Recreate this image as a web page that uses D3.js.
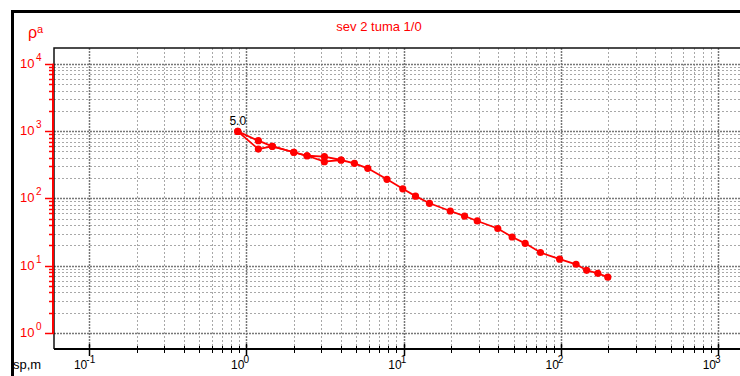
<!DOCTYPE html>
<html>
<head>
<meta charset="utf-8">
<script src="https://cdn.jsdelivr.net/npm/d3@7"></script>
<style>
  body { margin: 0; background: #fff; }
  svg { display: block; font-family: "Liberation Sans", Arial, sans-serif; }
</style>
</head>
<body>
<svg id="canvas" width="740" height="376"></svg>
<script>
// AB/2 spacing (m) and apparent resistivity, main curve
const spacing = [0.88, 1.19, 1.46, 2.0, 2.43, 3.13, 4.0, 4.86, 5.91, 7.83, 9.87, 11.9, 14.6,
    19.8, 24.4, 29.4, 39.7, 49, 59.3, 74.2, 98.3, 125, 146, 172, 199];
const rho = [990, 540, 595, 485, 430, 351, 372, 332, 280, 192, 139, 108, 84.6,
    65, 54.7, 46.2, 35.7, 26.7, 21.5, 15.7, 12.5, 10.5, 8.55, 7.71, 6.75];

// overlapping segment (second MN)
const spacing2 = [0.88, 1.19, 1.46, 2.0, 2.43, 3.13, 4.0];
const rho2 = [990, 720, 595, 485, 430, 417, 372];

const xDecades = [-1, 0, 1, 2, 3];
const yDecades = [0, 1, 2, 3, 4];
const title = "sev 2 tuma 1/0";
const firstLabel = "5.0";

const svg = d3.select("#canvas");
const pLeft = 54, pTop = 48, pRight = 740, pBottom = 349;

let x = d3.scaleLog().domain([0.1, 1000]).range([89.3, 718]);
let y = d3.scaleLog().domain([1, 10000]).range([333, 63.8]);

// outer frame
svg.append("path")
    .attr("d", "M12.5,380 V11.5 H745")
    .attr("fill", "none")
    .attr("stroke", "#000")
    .attr("stroke-width", 3);

svg.append("text")
    .attr("x", 379)
    .attr("y", 31)
    .attr("text-anchor", "middle")
    .attr("fill", "#ff0000")
    .attr("font-size", 13)
    .text(title);

// grid
var xMinor = [], xMajor = [];
xDecades.forEach(d => {
    for (let k = 1; k <= 9; k++) {
        let v = k * Math.pow(10, d);
        if (x(v) > pRight) continue;
        if (k == 1) xMajor.push(v); else if (d < 3) xMinor.push(v);
    }
});
var yMinor = [], yMajor = [];
yDecades.forEach(d => {
    for (let k = 1; k <= 9; k++) {
        let v = k * Math.pow(10, d);
        if (k == 1) yMajor.push(v); else if (d < 4) yMinor.push(v);
    }
});

var grid = svg.append("g").attr("class", "grid");
grid.selectAll(".vminor").data(xMinor).join("line")
    .attr("x1", d => Math.round(x(d)) + 0.5).attr("x2", d => Math.round(x(d)) + 0.5)
    .attr("y1", pTop).attr("y2", pBottom)
    .attr("stroke", "#a8a8a8").attr("stroke-dasharray", "2,2");
grid.selectAll(".hminor").data(yMinor).join("line")
    .attr("y1", d => Math.round(y(d)) + 0.5).attr("y2", d => Math.round(y(d)) + 0.5)
    .attr("x1", pLeft).attr("x2", pRight)
    .attr("stroke", "#a8a8a8").attr("stroke-dasharray", "2,2");
grid.selectAll(".vmajor").data(xMajor).join("line")
    .attr("x1", d => Math.round(x(d)) + 0.5).attr("x2", d => Math.round(x(d)) + 0.5)
    .attr("y1", pTop).attr("y2", pBottom)
    .attr("stroke", "#777").attr("stroke-width", 1.5).attr("stroke-dasharray", "2,1");
grid.selectAll(".hmajor").data(yMajor).join("line")
    .attr("y1", d => Math.round(y(d)) + 0.5).attr("y2", d => Math.round(y(d)) + 0.5)
    .attr("x1", pLeft).attr("x2", pRight)
    .attr("stroke", "#777").attr("stroke-width", 1.5).attr("stroke-dasharray", "2,1");

// plot frame
svg.append("path")
    .attr("d", "M" + pRight + "," + pTop + " H" + pLeft + " V" + pBottom)
    .attr("fill", "none").attr("stroke", "#111").attr("stroke-width", 1.5);

// x axis
svg.append("line")
    .attr("x1", pLeft).attr("x2", pRight).attr("y1", pBottom).attr("y2", pBottom)
    .attr("stroke", "#000").attr("stroke-width", 2);
svg.selectAll(".xminortick").data(xMinor).join("line")
    .attr("x1", d => Math.round(x(d)) + 0.5).attr("x2", d => Math.round(x(d)) + 0.5)
    .attr("y1", pBottom - 3).attr("y2", pBottom + 4)
    .attr("stroke", "#000");
svg.selectAll(".xmajortick").data(xMajor).join("line")
    .attr("x1", d => Math.round(x(d)) + 0.5).attr("x2", d => Math.round(x(d)) + 0.5)
    .attr("y1", pBottom - 5).attr("y2", pBottom + 7)
    .attr("stroke", "#000").attr("stroke-width", 1.5);

var xlab = svg.selectAll(".xlab").data(xDecades).join("g").attr("class", "xlab");
xlab.append("text")
    .attr("x", d => x(Math.pow(10, d)) - 2)
    .attr("y", 369)
    .attr("text-anchor", "end")
    .attr("font-size", 12)
    .text("10");
xlab.append("text")
    .attr("x", d => x(Math.pow(10, d)) - 3)
    .attr("y", 363)
    .attr("font-size", 10)
    .text(d => d);

svg.append("text")
    .attr("x", 13).attr("y", 369)
    .attr("font-size", 13)
    .text("sp,m");

// y axis (red)
svg.append("line")
    .attr("x1", 53).attr("x2", 53).attr("y1", y(10000)).attr("y2", y(1))
    .attr("stroke", "#ff0000").attr("stroke-width", 2);
svg.selectAll(".yminortick").data(yMinor).join("line")
    .attr("y1", d => Math.round(y(d)) + 0.5).attr("y2", d => Math.round(y(d)) + 0.5)
    .attr("x1", 49).attr("x2", 54)
    .attr("stroke", "#ff0000").attr("stroke-width", 1.5);
svg.selectAll(".ymajortick").data(yMajor).join("line")
    .attr("y1", d => Math.round(y(d)) + 0.5).attr("y2", d => Math.round(y(d)) + 0.5)
    .attr("x1", 45).attr("x2", 54)
    .attr("stroke", "#ff0000").attr("stroke-width", 1.5);

var ylab = svg.selectAll(".ylab").data(yDecades).join("g").attr("class", "ylab");
ylab.append("text")
    .attr("x", 20)
    .attr("y", d => y(Math.pow(10, d)) + 4)
    .attr("fill", "#ff0000")
    .attr("font-size", 13)
    .text("10");
ylab.append("text")
    .attr("x", 36)
    .attr("y", d => y(Math.pow(10, d)) - 3)
    .attr("fill", "#ff0000")
    .attr("font-size", 10)
    .text(d => d);

var rlab = svg.append("text")
    .attr("x", 28).attr("y", 38)
    .attr("fill", "#ff0000")
    .attr("font-size", 16)
    .text("ρ");
rlab.append("tspan")
    .attr("dy", -5)
    .attr("font-size", 11)
    .text("a");

// curves
var line = d3.line().x(d => x(d[0])).y(d => y(d[1]));
var pts = spacing.map((s, i) => [s, rho[i]]);
var pts2 = spacing2.map((s, i) => [s, rho2[i]]);

var curves = svg.append("g").attr("class", "curves");
[pts2, pts].forEach(p => {
    curves.append("path")
        .attr("d", line(p))
        .attr("fill", "none")
        .attr("stroke", "#ff0000")
        .attr("stroke-width", 1.8);
    curves.selectAll(null).data(p).join("circle")
        .attr("cx", d => x(d[0]))
        .attr("cy", d => y(d[1]))
        .attr("r", 3.6)
        .attr("fill", "#ff0000");
});

svg.append("text")
    .attr("x", x(spacing[0]))
    .attr("y", y(rho[0]) - 6)
    .attr("text-anchor", "middle")
    .attr("font-size", 12)
    .attr("fill", "#000")
    .text(firstLabel);
</script>
</body>
</html>
